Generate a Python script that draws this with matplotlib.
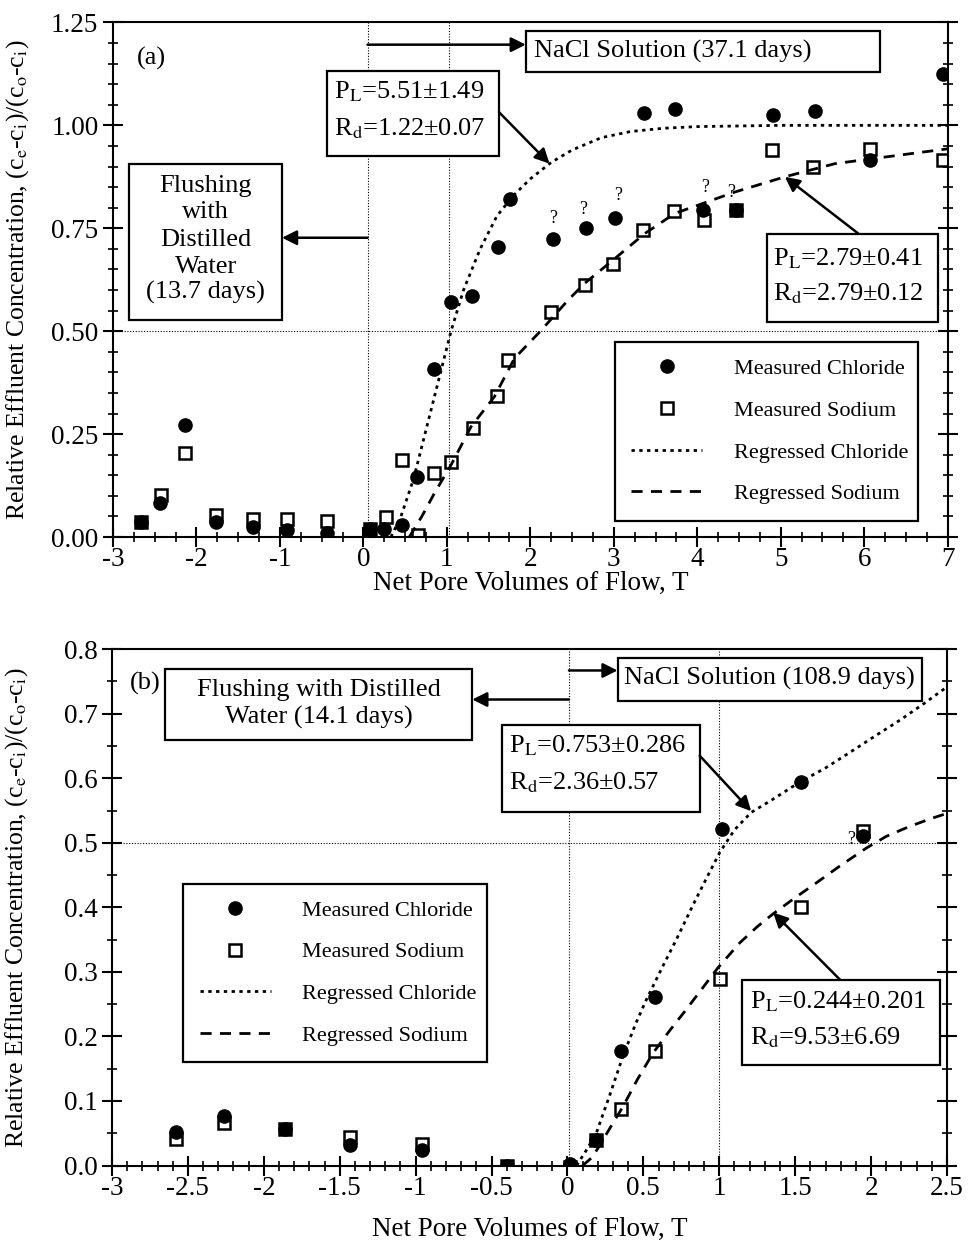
import matplotlib
matplotlib.use("Agg")
from matplotlib import pyplot as plt
from matplotlib.patches import Rectangle
from matplotlib.ticker import MultipleLocator, FormatStrFormatter

plt.rcParams['font.family'] = ['Liberation Serif', 'DejaVu Serif']
plt.rcParams['mathtext.fontset'] = 'stix'
plt.rcParams['axes.unicode_minus'] = False

# ---- panel (a) data ----
a_cl_T = [-2.66, -2.44, -2.14, -1.76, -1.32, -0.92, -0.43, 0.08, 0.25, 0.46, 0.64, 0.85,
          1.05, 1.30, 1.61, 1.76, 2.27, 2.67, 3.01, 3.36, 3.73, 4.07, 4.47, 4.91, 5.41, 6.07, 6.95]
a_cl_C = [0.037, 0.082, 0.272, 0.037, 0.025, 0.017, 0.009, 0.020, 0.020, 0.029, 0.146, 0.407,
          0.571, 0.585, 0.705, 0.822, 0.723, 0.750, 0.776, 1.030, 1.040, 0.795, 0.794, 1.024, 1.034, 0.917, 1.124]
a_na_T = [-2.66, -2.42, -2.14, -1.76, -1.32, -0.92, -0.43, 0.08, 0.27, 0.46, 0.65, 0.85,
          1.05, 1.31, 1.60, 1.73, 2.25, 2.65, 2.99, 3.35, 3.72, 4.08, 4.47, 4.90, 5.39, 6.07, 6.95]
a_na_C = [0.037, 0.102, 0.205, 0.053, 0.043, 0.043, 0.040, 0.020, 0.049, 0.187, 0.005, 0.156,
          0.183, 0.264, 0.342, 0.431, 0.547, 0.612, 0.664, 0.747, 0.792, 0.769, 0.794, 0.939, 0.899, 0.943, 0.917]
a_clfit_T = [0.33, 0.45, 0.60, 0.75, 0.90, 1.05, 1.20, 1.40, 1.60, 1.80, 2.00, 2.25, 2.50,
             2.85, 3.20, 3.60, 4.00, 5.00, 6.00, 7.00]
a_clfit_C = [0.0, 0.05, 0.14, 0.26, 0.38, 0.50, 0.60, 0.70, 0.78, 0.83, 0.87, 0.91, 0.94,
             0.97, 0.985, 0.993, 0.997, 1.0, 1.0, 1.0]
a_nafit_T = [0.55, 0.70, 0.85, 1.05, 1.29, 1.57, 1.81, 2.13, 2.45, 2.65, 3.01, 3.37, 3.73,
             4.45, 5.05, 5.65, 6.25, 7.00]
a_nafit_C = [0.0, 0.05, 0.106, 0.175, 0.268, 0.341, 0.434, 0.502, 0.575, 0.616, 0.676, 0.737,
             0.786, 0.838, 0.875, 0.907, 0.923, 0.943]
a_q_T = [2.27, 2.63, 3.05, 4.09, 4.41]
a_q_C = [0.773, 0.795, 0.830, 0.850, 0.838]

# ---- panel (b) data ----
b_cl_T = [-2.58, -2.26, -1.86, -1.43, -0.96, -0.40, 0.02, 0.185, 0.354, 0.579, 1.015, 1.54, 1.945]
b_cl_C = [0.052, 0.076, 0.056, 0.032, 0.024, 0.0, 0.003, 0.040, 0.178, 0.261, 0.522, 0.594, 0.511]
b_na_T = [-2.58, -2.26, -1.86, -1.43, -0.96, -0.40, 0.02, 0.185, 0.354, 0.579, 1.003, 1.54, 1.95]
b_na_C = [0.041, 0.066, 0.056, 0.044, 0.033, 0.0, -0.002, 0.040, 0.087, 0.177, 0.289, 0.401, 0.518]
b_clfit_T = [0.06, 0.12, 0.19, 0.28, 0.365, 0.45, 0.52, 0.62, 0.717, 0.83, 0.92, 1.003, 1.10,
             1.21, 1.35, 1.53, 1.70, 1.86, 2.03, 2.19, 2.35, 2.52]
b_clfit_C = [0.0, 0.022, 0.05, 0.11, 0.169, 0.22, 0.257, 0.305, 0.350, 0.405, 0.447, 0.485, 0.52,
             0.547, 0.567, 0.594, 0.616, 0.640, 0.666, 0.690, 0.716, 0.745]
b_nafit_T = [0.10, 0.16, 0.21, 0.28, 0.365, 0.46, 0.563, 0.67, 0.78, 0.89, 0.99, 1.135, 1.25,
             1.355, 1.50, 1.64, 1.80, 1.97, 2.10, 2.25, 2.40, 2.52]
b_nafit_C = [0.0, 0.012, 0.03, 0.058, 0.091, 0.133, 0.174, 0.208, 0.241, 0.275, 0.306, 0.345, 0.37,
             0.39, 0.415, 0.438, 0.465, 0.492, 0.51, 0.525, 0.538, 0.547]

FS = 19.5
BFS = 19
YFS = 18.5
LFS = 16


def style_axes(ax, xmaj, xmin, ymaj, ymin, yfmt):
    for s in ax.spines.values():
        s.set_linewidth(1.5)
    ax.xaxis.set_major_locator(MultipleLocator(xmaj))
    ax.xaxis.set_minor_locator(MultipleLocator(xmin))
    ax.yaxis.set_major_locator(MultipleLocator(ymaj))
    ax.yaxis.set_minor_locator(MultipleLocator(ymin))
    ax.yaxis.set_major_formatter(FormatStrFormatter(yfmt))
    ax.xaxis.set_major_formatter(FormatStrFormatter('%g'))
    ax.tick_params(which='both', direction='inout', top=False, right=True, labelsize=FS)
    ax.tick_params(which='major', length=15, width=1.5)
    ax.tick_params(which='minor', length=7, width=1.2)
    ax.tick_params(axis='x', which='major', pad=0)
    ax.tick_params(axis='y', which='major', pad=3)


def box(ax, x0, y0, x1, y1, lines, ha='left'):
    ax.add_patch(Rectangle((x0, y0), x1 - x0, y1 - y0, fc='white', ec='black', lw=1.6, zorder=6))
    for (x, y, s) in lines:
        ax.text(x, y, s, ha=ha, va='center', fontsize=BFS, zorder=7)


def arrow(ax, start, tip):
    ax.annotate('', xy=tip, xytext=start,
                arrowprops=dict(arrowstyle='-|>', lw=1.8, color='black', mutation_scale=22,
                                shrinkA=0, shrinkB=0), zorder=6)


def draw(ax, clT, clC, naT, naC, cfT, cfC, nfT, nfC):
    ax.plot(cfT, cfC, color='black', ls=(0, (1.2, 1.6)), lw=2.0, zorder=2, label='Regressed Chloride')
    ax.plot(nfT, nfC, color='black', ls=(0, (4, 3)), lw=2.0, zorder=2, label='Regressed Sodium')
    ax.plot(clT, clC, 'o', color='black', ms=9.5, zorder=3, label='Measured Chloride')
    ax.plot(naT, naC, 's', mfc='none', mec='black', mew=1.8, ms=8.5, zorder=4, label='Measured Sodium')


def legend(ax, anchor):
    h, l = ax.get_legend_handles_labels()
    order = [2, 3, 0, 1]
    lg = ax.legend([h[i] for i in order], [l[i] for i in order], loc='upper left',
                   bbox_to_anchor=anchor, mode='expand', borderaxespad=0, fontsize=LFS,
                   frameon=True, fancybox=False, edgecolor='black', framealpha=1,
                   handlelength=3.2, handletextpad=1.4, labelspacing=0.95, borderpad=0.75)
    lg.get_frame().set_linewidth(1.6)
    lg.set_zorder(8)


fig = plt.figure(figsize=(9.68, 12.46), dpi=100)
ylab = 'Relative Effluent Concentration, (c$_\\mathrm{e}$-c$_\\mathrm{i}$)/(c$_\\mathrm{o}$-c$_\\mathrm{i}$)'

# ================= panel (a) =================
ax1 = fig.add_axes([0.1167, 0.569, 0.8623, 0.413])
ax1.set_xlim(-3, 7)
ax1.set_ylim(0, 1.25)
style_axes(ax1, 1, 0.25, 0.25, 0.05, '%.2f')
ax1.axvline(0.05, color='black', ls=(0, (1, 1.5)), lw=0.8, zorder=1)
ax1.axvline(1.03, color='black', ls=(0, (1, 1.5)), lw=0.8, zorder=1)
ax1.axhline(0.5, color='black', ls=(0, (1, 1.5)), lw=0.8, zorder=1)
draw(ax1, a_cl_T, a_cl_C, a_na_T, a_na_C, a_clfit_T, a_clfit_C, a_nafit_T, a_nafit_C)
for t, c in zip(a_q_T, a_q_C):
    ax1.text(t, c, '?', ha='center', va='center', fontsize=13, zorder=5)
ax1.text(-2.54, 1.162, '(a)', ha='center', va='center', fontsize=BFS)

box(ax1, 1.946, 1.129, 6.187, 1.229, [(2.04, 1.179, 'NaCl Solution (37.1 days)')])
arrow(ax1, (0.05, 1.196), (1.946, 1.196))
box(ax1, -0.435, 0.925, 1.625, 1.132,
    [(-0.355, 1.081, 'P$_\\mathrm{L}$=5.51±1.49'), (-0.355, 0.992, 'R$_\\mathrm{d}$=1.22±0.07')])
arrow(ax1, (1.625, 1.032), (2.23, 0.907))
box(ax1, -2.804, 0.527, -0.975, 0.907,
    [(-1.89, 0.853, 'Flushing'), (-1.89, 0.789, 'with'), (-1.89, 0.721, 'Distilled'),
     (-1.89, 0.656, 'Water'), (-1.89, 0.595, '(13.7 days)')], ha='center')
arrow(ax1, (0.05, 0.727), (-0.975, 0.727))
box(ax1, 4.839, 0.5226, 6.888, 0.737,
    [(4.907, 0.676, 'P$_\\mathrm{L}$=2.79±0.41'), (4.907, 0.591, 'R$_\\mathrm{d}$=2.79±0.12')])
arrow(ax1, (5.93, 0.737), (5.05, 0.875))

legend(ax1, (0.601, 0.017, 0.363, 0.362))
ax1.set_xlabel('Net Pore Volumes of Flow, T', fontsize=FS)
ax1.set_ylabel(ylab, fontsize=YFS)
ax1.xaxis.set_label_coords(0.5, -0.066)
ax1.yaxis.set_label_coords(-0.098, 0.5)

# ================= panel (b) =================
ax2 = fig.add_axes([0.1157, 0.0646, 0.8626, 0.4144])
ax2.set_xlim(-3, 2.5)
ax2.set_ylim(0, 0.8)
style_axes(ax2, 0.5, 0.1, 0.1, 0.05, '%.1f')
ax2.axvline(0.01, color='black', ls=(0, (1, 1.5)), lw=0.8, zorder=1)
ax2.axvline(1.0, color='black', ls=(0, (1, 1.5)), lw=0.8, zorder=1)
ax2.axhline(0.5, color='black', ls=(0, (1, 1.5)), lw=0.8, zorder=1)
draw(ax2, b_cl_T, b_cl_C, b_na_T, b_na_C, b_clfit_T, b_clfit_C, b_nafit_T, b_nafit_C)
ax2.text(1.87, 0.505, '?', ha='center', va='center', fontsize=13, zorder=5)
ax2.text(-2.78, 0.747, '(b)', ha='center', va='center', fontsize=BFS)

box(ax2, -2.653, 0.659, -0.627, 0.769,
    [(-1.64, 0.736, 'Flushing with Distilled'), (-1.64, 0.694, 'Water (14.1 days)')], ha='center')
arrow(ax2, (0.01, 0.722), (-0.627, 0.722))
box(ax2, 0.33, 0.72, 2.337, 0.786, [(0.37, 0.754, 'NaCl Solution (108.9 days)')])
arrow(ax2, (0.01, 0.767), (0.33, 0.767))
box(ax2, -0.429, 0.547, 0.871, 0.682,
    [(-0.383, 0.650, 'P$_\\mathrm{L}$=0.753±0.286'), (-0.383, 0.593, 'R$_\\mathrm{d}$=2.36±0.57')])
arrow(ax2, (0.871, 0.635), (1.21, 0.549))
box(ax2, 1.147, 0.155, 2.451, 0.288,
    [(1.201, 0.254, 'P$_\\mathrm{L}$=0.244±0.201'), (1.201, 0.1975, 'R$_\\mathrm{d}$=9.53±6.69')])
arrow(ax2, (1.795, 0.288), (1.355, 0.392))

legend(ax2, (0.085, 0.182, 0.364, 0.364))
ax2.set_xlabel('Net Pore Volumes of Flow, T', fontsize=FS)
ax2.set_ylabel(ylab, fontsize=YFS)
ax2.xaxis.set_label_coords(0.5, -0.1)
ax2.yaxis.set_label_coords(-0.098, 0.5)

fig.savefig('out.png', dpi=100)
